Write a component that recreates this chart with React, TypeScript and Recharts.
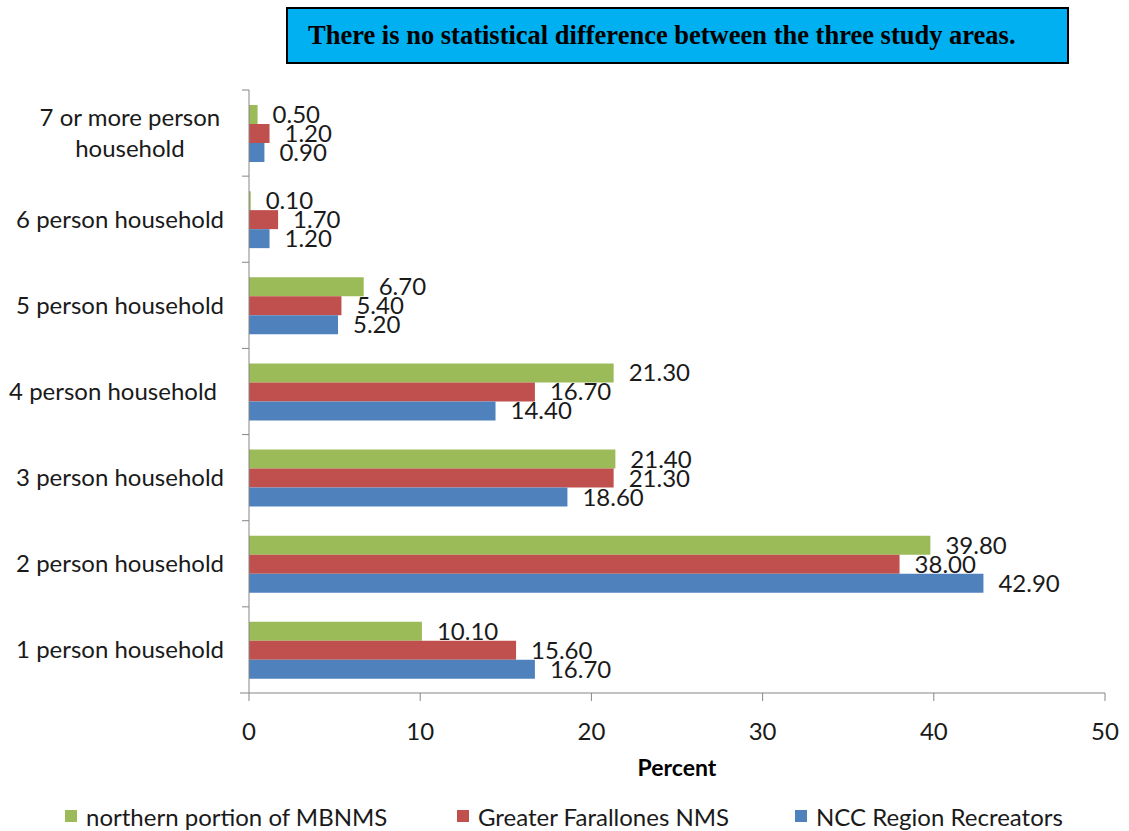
import React from "react";
import { BarChart, Bar, XAxis, YAxis, LabelList } from "recharts";

const categories = [
  "7 or more person household",
  "6 person household",
  "5 person household",
  "4 person household ",
  "3 person household",
  "2 person household",
  "1 person household",
];
const mbnmsValues = [0.5, 0.1, 6.7, 21.3, 21.4, 39.8, 10.1];
const gfnmsValues = [1.2, 1.7, 5.4, 16.7, 21.3, 38.0, 15.6];
const nccValues = [0.9, 1.2, 5.2, 14.4, 18.6, 42.9, 16.7];
const xTicks = [0, 10, 20, 30, 40, 50];

const seriesNames = ["northern portion of MBNMS", "Greater Farallones NMS", "NCC Region Recreators"];
const seriesKeys = ["mbnms", "gfnms", "ncc"];
const seriesColors = ["#9BBB59", "#C0504D", "#4F81BD"];
const titleText = "There is no statistical difference between the three study areas.";

const data = categories.map((c, i) => ({
  cat: c,
  mbnms: mbnmsValues[i],
  gfnms: gfnmsValues[i],
  ncc: nccValues[i],
}));

const W = 1129;
const H = 831;
const M = { top: 90, right: 24, left: 0, bottom: 48 };
const XAXIS_H = 90;
const YAXIS_W = 249;
const PLOT_H = H - M.top - M.bottom - XAXIS_H;
const BAND = PLOT_H / categories.length;
const FONT = "Lato, 'Open Sans', sans-serif";
const FS = 24;
const AXIS_COLOR = "#868686";
const TEXT_COLOR = "#1a1a1a";

function wrap(label: string, max: number): string[] {
  const words = label.trim().split(" ");
  const lines: string[] = [];
  let cur = "";
  for (const w of words) {
    const next = cur ? cur + " " + w : w;
    if (next.length > max && cur) {
      lines.push(cur);
      cur = w;
    } else cur = next;
  }
  if (cur) lines.push(cur);
  return lines;
}

const YTick = (props: any) => {
  const { x, y, payload, index } = props;
  const raw: string = payload.value;
  const lines = wrap(raw, 18);
  const trailing = raw.endsWith(" ") ? 7 : 0;
  const right = x - 25 - trailing;
  const lh = 31;
  const els: any[] = [];
  if (lines.length === 1) {
    els.push(
      <text key="t" x={right} y={y} dy="0.35em" textAnchor="end" fontSize={FS} fontFamily={FONT} fill={TEXT_COLOR}>
        {lines[0]}
      </text>
    );
  } else {
    const longest = Math.max(...lines.map((l) => l.length));
    const cx = right - (longest * FS * 0.49) / 2;
    lines.forEach((l, i) => {
      els.push(
        <text key={"t" + i} x={cx} y={y + (i - (lines.length - 1) / 2) * lh} dy="0.35em" textAnchor="middle" fontSize={FS} fontFamily={FONT} fill={TEXT_COLOR}>
          {l}
        </text>
      );
    });
  }
  els.push(<line key="b1" x1={x - 7} x2={x} y1={y - BAND / 2} y2={y - BAND / 2} stroke={AXIS_COLOR} strokeWidth={1} />);
  if (index === categories.length - 1) {
    els.push(<line key="b2" x1={x - 9} x2={x} y1={y + BAND / 2} y2={y + BAND / 2} stroke={AXIS_COLOR} strokeWidth={1} />);
  }
  return <g>{els}</g>;
};

const fmt = (v: any) => Number(v).toFixed(2);

export default function App() {
  return (
    <div style={{ position: "absolute", left: 0, top: 0, width: W, height: H, background: "#fff" }}>
      <BarChart
        width={W}
        height={H}
        data={data}
        layout="vertical"
        margin={M}
        barGap={0}
        barSize={19}
      >
        <XAxis
          type="number"
          domain={[0, 50]}
          ticks={xTicks}
          interval={0}
          height={XAXIS_H}
          stroke={AXIS_COLOR}
          tickSize={8}
          tickMargin={22}
          tick={{ fontSize: FS, fontFamily: FONT, fill: TEXT_COLOR }}
          label={{
            value: "Percent",
            position: "insideBottom",
            offset: 7,
            style: { fontSize: 23, fontWeight: 700, fontFamily: FONT, fill: "#000" },
          }}
        />
        <YAxis
          type="category"
          dataKey="cat"
          width={YAXIS_W}
          stroke={AXIS_COLOR}
          tickLine={false}
          tickSize={0}
          tickMargin={0}
          interval={0}
          tick={<YTick />}
        />
        {seriesKeys.map((k, i) => (
          <Bar key={k} dataKey={k} name={seriesNames[i]} fill={seriesColors[i]} isAnimationActive={false}>
            <LabelList
              dataKey={k}
              position="right"
              offset={15}
              formatter={fmt}
              fill={TEXT_COLOR}
              style={{ fontSize: FS, fontFamily: FONT }}
            />
          </Bar>
        ))}
      </BarChart>

      <div
        style={{
          position: "absolute",
          left: 286,
          top: 7,
          width: 783,
          height: 57,
          boxSizing: "border-box",
          border: "2px solid #000",
          background: "#00B0F0",
          display: "flex",
          alignItems: "center",
          paddingLeft: 20,
          fontFamily: "'Liberation Serif', 'Times New Roman', serif",
          fontWeight: 700,
          fontSize: 26.5,
          color: "#000",
          whiteSpace: "nowrap",
        }}
      >
        {titleText}
      </div>

      {[65, 457, 795].map((left, i) => (
        <div
          key={i}
          style={{
            position: "absolute",
            left,
            top: 804,
            height: 24,
            display: "flex",
            alignItems: "center",
            fontFamily: FONT,
            fontSize: FS,
            color: TEXT_COLOR,
            whiteSpace: "nowrap",
          }}
        >
          <span style={{ display: "inline-block", width: 12, height: 12, background: seriesColors[i], marginRight: 9 }} />
          {seriesNames[i]}
        </div>
      ))}
    </div>
  );
}
